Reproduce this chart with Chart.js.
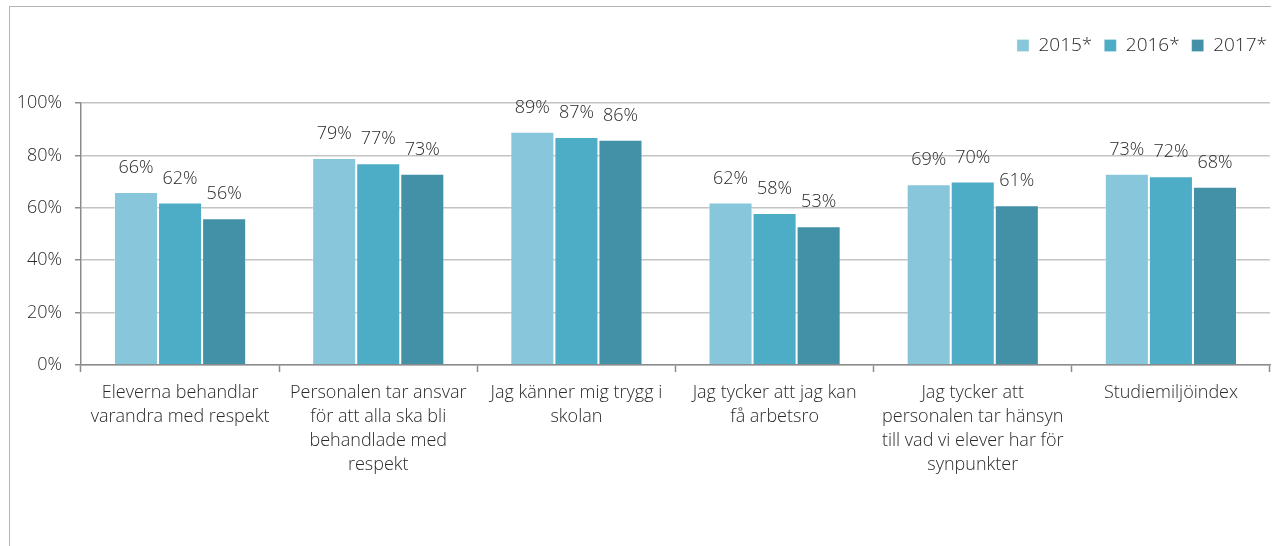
<!DOCTYPE html>
<html>
<head>
<meta charset="utf-8">
<script src="https://cdn.jsdelivr.net/npm/chart.js@4"></script>
<style>
  html, body { margin: 0; padding: 0; background: #fff; }
  #frame {
    position: absolute; left: 9px; top: 6px; width: 1261px; height: 560px;
    border-left: 1px solid #b4b4b4; border-top: 1px solid #b4b4b4;
  }
  #wrap { position: absolute; left: 0; top: 0; width: 1274px; height: 546px; }
</style>
</head>
<body>
<div id="frame"></div>
<div id="wrap"><canvas id="chart"></canvas></div>
<script>
const categories = [
  ["Eleverna behandlar", "varandra med respekt"],
  ["Personalen tar ansvar", "för att alla ska bli", "behandlade med", "respekt"],
  ["Jag känner mig trygg i", "skolan"],
  ["Jag tycker att jag kan", "få arbetsro"],
  ["Jag tycker att", "personalen tar hänsyn", "till vad vi elever har för", "synpunkter"],
  ["Studiemiljöindex"]
];
const seriesNames = ["2015*", "2016*", "2017*"];
const values2015 = [66, 79, 89, 62, 69, 73];
const values2016 = [62, 77, 87, 58, 70, 72];
const values2017 = [56, 73, 86, 53, 61, 68];
const yTicks = [0, 20, 40, 60, 80, 100];

const colors = ["#88c6db", "#4dacc6", "#4291a7"];
const FONT = "'Open Sans', 'DejaVu Sans', sans-serif";
const TEXT = "#2a2a2a";

// value labels above each bar
const barLabels = {
  id: "barLabels",
  afterDatasetsDraw(chart) {
    const ctx = chart.ctx;
    ctx.save();
    ctx.font = "300 18px " + FONT;
    ctx.fillStyle = TEXT;
    ctx.textAlign = "center";
    ctx.textBaseline = "middle";
    chart.data.datasets.forEach((ds, i) => {
      chart.getDatasetMeta(i).data.forEach((bar, j) => {
        ctx.fillText(ds.data[j] + "%", bar.x, bar.y - 24);
      });
    });
    ctx.restore();
  }
};

// fixed legend height so the plot top lands where it should,
// and nudge the legend further right
const legendFix = {
  id: "legendFix",
  beforeInit(chart) {
    const fit = chart.legend.fit;
    chart.legend.fit = function () {
      fit.bind(chart.legend)();
      this.height = 79;
    };
  },
  afterLayout(chart) {
    chart.legend.left += 9;
    chart.legend.right += 9;
  }
};

new Chart(document.getElementById("chart"), {
  type: "bar",
  data: {
    labels: categories,
    datasets: [
      { label: seriesNames[0], data: values2015, backgroundColor: colors[0] },
      { label: seriesNames[1], data: values2016, backgroundColor: colors[1] },
      { label: seriesNames[2], data: values2017, backgroundColor: colors[2] }
    ].map(d => Object.assign(d, {
      borderColor: "rgba(255,255,255,0.25)",
      borderWidth: 1,
      categoryPercentage: 0.667,
      barPercentage: 1
    }))
  },
  options: {
    responsive: true,
    maintainAspectRatio: false,
    animation: false,
    layout: { padding: { top: 24, left: 0, right: 4, bottom: 0 } },
    plugins: {
      legend: {
        position: "top",
        align: "end",
        labels: {
          boxWidth: 12,
          boxHeight: 12,
          padding: 12,
          color: TEXT,
          font: { family: FONT, size: 19, weight: 300 }
        }
      },
      tooltip: { enabled: false }
    },
    scales: {
      x: {
        grid: {
          drawOnChartArea: false,
          drawTicks: true,
          tickLength: 7,
          tickColor: "#8c8c8c",
          tickWidth: 1.5
        },
        border: { color: "#8c8c8c", width: 1.5 },
        ticks: {
          color: TEXT,
          padding: 9,
          maxRotation: 0,
          autoSkip: false,
          font: { family: FONT, size: 18, weight: 300, lineHeight: 1.333 }
        },
        afterFit(scale) { scale.height = 181; }
      },
      y: {
        min: 0,
        max: 100,
        afterBuildTicks(scale) { scale.ticks = yTicks.map(v => ({ value: v })); },
        grid: {
          color: "#c4c4c4",
          lineWidth: 1.5,
          tickLength: 6,
          tickColor: "#8c8c8c"
        },
        border: { color: "#8c8c8c", width: 1.5 },
        ticks: {
          color: TEXT,
          padding: 13,
          font: { family: FONT, size: 18, weight: 300 },
          callback: v => v + "%"
        },
        afterFit(scale) { scale.width = 81; }
      }
    }
  },
  plugins: [barLabels, legendFix]
});
</script>
</body>
</html>
